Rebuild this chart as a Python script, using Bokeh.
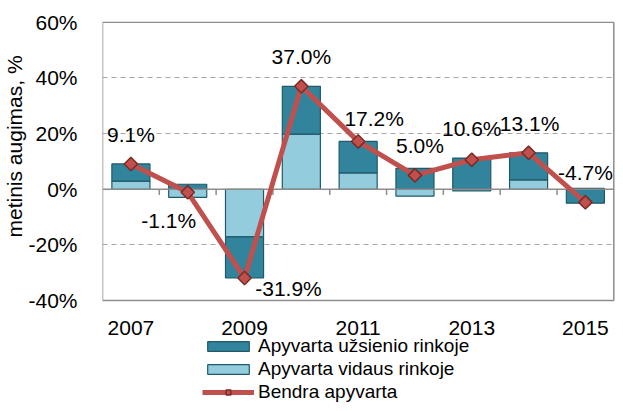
import math
from bokeh.plotting import figure
from bokeh.models import (FixedTicker, PrintfTickFormatter, Title, Legend,
                          LegendItem, ColumnDataSource)
from bokeh.core.properties import value
from bokeh.embed import file_html
from bokeh.resources import INLINE

# ---- data ----
years = [2007, 2008, 2009, 2010, 2011, 2012, 2013, 2014, 2015]
foreign = [6.2, 1.8, -14.8, 17.2, 11.3, 7.5, 11.2, 9.7, -5.0]     # Apyvarta užsienio rinkoje
domestic = [2.9, -2.9, -17.1, 19.8, 5.9, -2.5, -0.6, 3.4, 0.3]    # Apyvarta vidaus rinkoje
total = [9.1, -1.1, -31.9, 37.0, 17.2, 5.0, 10.6, 13.1, -4.7]     # Bendra apyvarta
y_ticks = [-40, -20, 0, 20, 40, 60]
x_tick_years = [2007, 2009, 2011, 2013, 2015]
series_names = ["Apyvarta užsienio rinkoje", "Apyvarta vidaus rinkoje", "Bendra apyvarta"]
y_title = "metinis augimas, %"

# label placement (screen px offsets from each point)
label_dx = [0, -19, 44, 0, 16, 5, 0, 1, 0]
label_dy = [-29, 28, 10, -30, -23, -30, -31, -29, -30]

FONT = "Liberation Sans"
DARK = "#31849B"
LIGHT = "#93CDDD"
EDGE = "#215968"
RED = "#C0504D"
GREY = "#8c8c8c"

# stacking: domestic nearest zero, foreign on top (sign-separated)
d_bottom, d_top, f_bottom, f_top = [], [], [], []
for d, f in zip(domestic, foreign):
    d_bottom.append(0)
    d_top.append(d)
    base = d if (d >= 0) == (f >= 0) else 0
    f_bottom.append(base)
    f_top.append(base + f)

x_lo, x_hi = years[0] - 0.5, years[-1] + 0.5
y_lo, y_hi = y_ticks[0], y_ticks[-1]

# the frame extends below the plot area so the legend & year labels live inside it
p = figure(width=615, height=403, x_range=(x_lo, x_hi + 0.03), y_range=(-77, y_hi + 0.3),
           output_backend="svg", toolbar_location=None,
           min_border_left=102, min_border_right=0, min_border_top=21, min_border_bottom=0)

p.outline_line_color = None
p.background_fill_color = "white"
p.border_fill_color = "white"
p.xaxis.visible = False

p.xgrid.visible = False
p.ygrid.ticker = FixedTicker(ticks=[-20, 20, 40])
p.ygrid.grid_line_color = "#a6a6a6"
p.ygrid.grid_line_dash = "5 4"
p.ygrid.grid_line_width = 1.2

ya = p.yaxis[0]
ya.ticker = FixedTicker(ticks=y_ticks)
ya.formatter = PrintfTickFormatter(format="%d%%")
ya.axis_line_color = None
ya.major_tick_line_color = None
ya.minor_tick_line_color = None
ya.major_label_standoff = 19
ya.major_label_text_font = FONT
ya.major_label_text_font_size = "21px"
ya.major_label_text_color = "black"

# plot-area border
p.quad(left=[x_lo], right=[x_hi], bottom=[y_lo], top=[y_hi],
       fill_color=None, line_color=GREY, line_width=1.5)

r_dom = p.vbar(x=years, width=0.67, bottom=d_bottom, top=d_top,
               fill_color=LIGHT, line_color=EDGE, line_width=1.2)
r_for = p.vbar(x=years, width=0.67, bottom=f_bottom, top=f_top,
               fill_color=DARK, line_color=EDGE, line_width=1.2)

# zero line and category tick marks
p.segment(x0=[x_lo], y0=[0], x1=[x_hi], y1=[0], line_color=GREY, line_width=1.5)
bounds = [(a + b) / 2 for a, b in zip(years[:-1], years[1:])]
p.segment(x0=bounds, y0=[0] * len(bounds), x1=bounds, y1=[-2.1] * len(bounds),
          line_color=GREY, line_width=1.5)

r_line = p.line(years, total, line_color=RED, line_width=5)
r_pts = p.scatter(years, total, marker="square", angle=math.pi / 4, size=9.5,
                  fill_color=RED, line_color="#7a2a27", line_width=1.5)

src = ColumnDataSource(dict(x=years, y=total,
                            t=[f"{v:.1f}%" for v in total],
                            dx=label_dx, dy=label_dy))
p.text(x="x", y="y", text="t", x_offset="dx", y_offset="dy", source=src,
       text_align="center", text_baseline="middle",
       text_font=value(FONT), text_font_size=value("21px"), text_color="black")

# category (year) labels under the plot area
p.text(x=x_tick_years, y=[y_lo] * len(x_tick_years), text=[str(y) for y in x_tick_years],
       y_offset=27, text_align="center", text_baseline="middle",
       text_font=value(FONT), text_font_size=value("21px"), text_color="black")

p.add_layout(Title(text=y_title, align="left", offset=166, standoff=0,
                   text_font=FONT, text_font_size="21px", text_font_style="normal",
                   text_color="black"), "left")

legend = Legend(items=[LegendItem(label=series_names[0], renderers=[r_for]),
                       LegendItem(label=series_names[1], renderers=[r_dom]),
                       LegendItem(label=series_names[2], renderers=[r_line, r_pts])],
                location=(100, 0), orientation="vertical",
                glyph_width=52, glyph_height=12, label_standoff=4,
                padding=0, margin=0, spacing=1, label_height=18,
                border_line_color=None, background_fill_alpha=0,
                label_text_font=FONT, label_text_font_size="19px",
                label_text_color="black")
p.add_layout(legend, "center")

open("out.html", "w").write(file_html(p, INLINE))
